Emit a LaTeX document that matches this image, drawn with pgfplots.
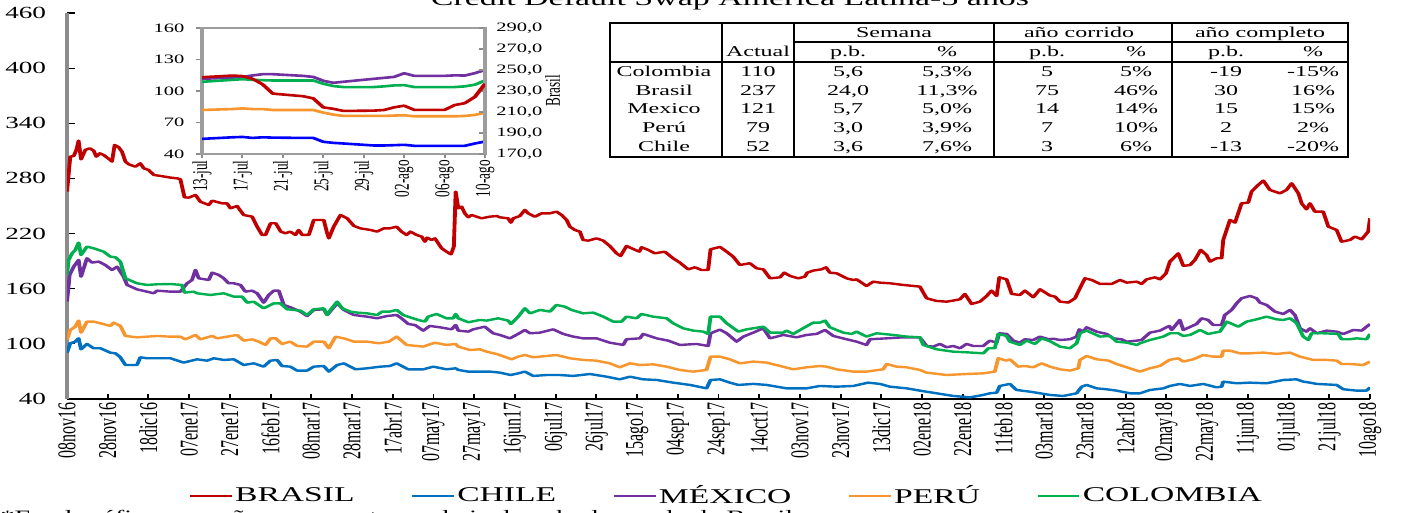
\documentclass[border=0pt]{standalone}
\usepackage{fontspec}
\setmainfont{Liberation Serif}
\usepackage{pgfplots}
\pgfplotsset{compat=1.18}
\definecolor{cBR}{HTML}{C00000}
\definecolor{cCL}{HTML}{0070C0}
\definecolor{cMX}{HTML}{7030A0}
\definecolor{cPE}{HTML}{F7962E}
\definecolor{cCO}{HTML}{00B050}
\definecolor{iBL}{HTML}{0000FF}
\definecolor{gAx}{HTML}{8C8C8C}
\newcommand\trow[9]{%
  \node at (664,#1) {#2};
  \node at (758,#1) {#3};
  \node at (848,#1) {#4};
  \node at (947,#1) {#5};
  \node at (1047,#1) {#6};
  \node at (1136,#1) {#7};
  \node at (1226,#1) {#8};
  \node at (1313,#1) {#9};}
\begin{document}
\begin{tikzpicture}
\useasboundingbox (0,0) rectangle (700.5pt,256.5pt);
\begin{scope}[transform canvas={xscale=1.6}]
\begin{axis}[
  at={(20.94pt,57pt)}, anchor=south west, scale only axis,
  width=407.19pt, height=193pt,
  xmin=0, xmax=640, ymin=40, ymax=460,
  axis x line*=bottom, axis y line*=left,
  x axis line style={-, black, line width=0.8pt},
  y axis line style={-, gAx, line width=1pt},
  tick align=inside, major tick length=2.5pt,
  tick style={black, line width=0.6pt},
  xtick={0,20,...,640},
  xticklabels={08nov16,28nov16,18dic16,07ene17,27ene17,16feb17,08mar17,28mar17,17abr17,07may17,27may17,16jun17,06jul17,26jul17,15ago17,04sep17,24sep17,14oct17,03nov17,23nov17,13dic17,02ene18,22ene18,11feb18,03mar18,23mar18,12abr18,02may18,22may18,11jun18,01jul18,21jul18,10ago18},
  xticklabel style={rotate=90, anchor=east, font=\fontsize{8}{9}\selectfont, inner sep=1.5pt},
  ytick={40,100,...,460},
  yticklabel style={font=\fontsize{8.5}{10}\selectfont, xshift=-3pt},
  /pgf/number format/assume math mode=true,
  legend columns=5,
  legend style={at={(0.506,-0.252)}, anchor=center, draw=none, fill=none, font=\fontsize{10.5}{12}\selectfont, /tikz/every even column/.append style={column sep=17pt}, nodes={inner sep=0.6pt}},
  legend image code/.code={\draw[#1, line width=0.9pt] (0pt,0pt) -- (13pt,0pt);},
  every axis plot/.append style={line width=1.2pt, line join=round},
]
\addplot[cBR] coordinates {(0,265.6)(1.6,303.7)(3.3,304.4)(4.6,311)(5.7,321.1)(6.9,300.8)(9,311)(11.1,312.8)(13.1,310.2)(14.4,303.7)(16.1,307.3)(18,305.5)(21.3,300)(22.1,298.3)(23.4,316.4)(25.4,313.9)(27,309.1)(28.7,298.3)(30.3,295.4)(33.6,292.8)(36,296.4)(37.7,291)(40.1,289.2)(42.6,283.8)(45.9,282.7)(50.8,280.9)(54.1,280.1)(55.7,279)(57.7,259.5)(59.8,259.1)(63.1,262)(65.5,254.7)(69.6,251.1)(71.3,255.8)(73.7,254.4)(76.2,252.9)(78.6,252.9)(80.3,247.5)(83.5,250)(86.8,240.2)(90.9,238.4)(93.4,227.5)(95.8,218.5)(97.5,218.5)(100,231.2)(102.5,231.2)(105,222.1)(107.3,220.3)(109.7,222.1)(112.2,218.5)(113.8,223.9)(115.5,218.5)(118.8,218.5)(121.2,234.8)(126.1,234.8)(127.8,220.3)(128.6,214.8)(131,227.5)(134.3,240.2)(137.6,236.6)(140.9,228.3)(144.1,225.7)(149.1,223.9)(152.3,222.1)(155.6,225.7)(158.6,225.7)(161.9,227.5)(164.3,222.1)(166.8,218.5)(168.7,222.1)(171.7,218.5)(174.2,216.7)(175.8,211.2)(176.9,215.6)(179.1,213)(180.7,214.8)(184,204)(186.4,200.3)(188.6,197.4)(190,205.8)(190.9,265.6)(192.2,247.5)(193.8,249.3)(195.4,242)(197.1,237.7)(198.7,240.2)(203.6,236.6)(207.7,238.4)(211,239.1)(212.6,237.7)(216.7,236.6)(218,231.9)(219.2,236.6)(222.4,239.1)(224.9,245.7)(226.5,242)(229.8,238.4)(233.1,242)(237.2,242)(240.4,243.9)(242.9,240.2)(245.4,234.8)(247,227.5)(249.5,223.9)(251.9,222.1)(253.5,213)(256,212.3)(260.1,214.8)(263.4,212.3)(266.6,206.5)(269.9,198.5)(271.9,195.6)(274.8,206.5)(277.3,204)(281.1,200.3)(282.2,205.1)(285.5,202.2)(288.7,198.5)(293.6,200.3)(297.7,193.1)(301,188.4)(305.1,181.1)(308.4,183.3)(311.6,180.4)(314.9,180.4)(316.1,202.9)(320.7,205.5)(324,200.3)(327.2,194.9)(330.5,185.8)(335.4,187.7)(338.7,182.2)(342,181.1)(345.3,171.3)(350.2,172.4)(352.3,177.5)(355.1,173.9)(359.2,171.3)(362.4,173.1)(363.6,177.5)(366.5,179.7)(370.6,181.1)(372.8,183.3)(374.7,177.5)(378,176.8)(382.9,171.3)(386.2,169.5)(387.8,170.2)(392.7,163)(396,167.7)(399.3,166.6)(404.2,165.9)(410.7,164.1)(418.9,162.3)(422.2,149.6)(427.1,146.7)(432,145.9)(435.3,147.1)(438.6,148.5)(441,154.3)(444.3,143.4)(448.4,145.9)(451.7,152.1)(454.1,157.9)(456.6,152.1)(457.9,172.4)(461.5,170.2)(464,154.3)(468,153.2)(470.5,157.9)(474.6,150.7)(477.9,159.4)(482.8,152.6)(485.3,151.4)(487.7,146)(491.8,144.9)(495.1,149.6)(497.5,160.5)(500,171.3)(503.3,169.5)(507.4,165.2)(513.1,165.2)(517.2,169.5)(520.5,166.6)(525.4,167.7)(527.8,165.2)(530.3,170.2)(534.4,172.4)(536.8,170.2)(539.8,176.8)(541.7,189.5)(545.8,198.5)(548.3,184.8)(551.6,185.8)(554,191.3)(556.8,202.2)(559.7,196.7)(561.4,189.5)(564.6,193.1)(567.1,193.1)(567.9,213)(571.2,234.8)(573.7,231.9)(576.9,252.9)(580.2,253.7)(581.8,265.6)(585.1,272.9)(587.6,277.6)(590.8,267.5)(595.7,263.8)(599,267.5)(601.5,274.7)(604.8,263.8)(606.4,252.9)(608.8,246.4)(610.5,252.9)(612.9,243.9)(617,243.9)(619.5,227.6)(623.6,223.9)(626,211.2)(630.1,213)(632.6,216.7)(635.9,213.8)(639.1,222.1)(640,236.6)};
\addlegendentry{BRASIL}
\addplot[cCL] coordinates {(0,90.4)(1.6,100.6)(4.1,102.4)(5.7,106)(6.9,94.1)(9.8,99.9)(13.1,95.2)(16.4,95.2)(21.3,90.4)(23.8,89.7)(26.2,85.4)(28.7,77)(34.4,77)(36,85.4)(39.3,84.3)(44.2,84.3)(50.8,84.3)(57.3,79.6)(63.9,83.2)(68.8,81.7)(72.1,84.3)(77,82.5)(81.9,83.2)(86.8,77)(91.7,78.8)(96.6,75.2)(99.9,81.7)(103.2,82.5)(105.6,75.9)(109.7,75.2)(113,70.9)(117.9,70.9)(121.2,75.2)(126.1,75.9)(128.6,69.8)(132.7,77)(136,78.8)(141.7,72.3)(147.4,73.4)(154,75.2)(158.6,75.9)(161.9,78.8)(167.6,72.3)(175,72.3)(179.9,75.2)(186.4,72.3)(190.9,73.4)(192.2,71.6)(197.1,69.8)(207.7,69.8)(212.6,68.7)(217.9,66.1)(221.6,67.9)(224.9,69.8)(229,65.1)(235.5,66.1)(242.1,66.1)(248.6,65.1)(256.8,67.2)(265,64.3)(271.5,61.4)(276.5,64.3)(283,61.4)(289.6,60.7)(297.7,57.8)(306,55.3)(314.1,51.6)(316.1,60.7)(320.7,61.4)(325.6,57.8)(329.7,55.3)(337.1,56.4)(343.6,55.3)(353.4,51.6)(363.3,51.6)(369.8,54.2)(378,53.4)(386.2,54.2)(393.5,57.8)(399.3,56.4)(404.2,53.4)(412.4,51.6)(418.9,49.1)(427.1,46.2)(435.3,43.3)(443.5,41.8)(450,44.4)(453.3,46.2)(456.6,46.9)(458.2,54.2)(463.1,56.4)(466.4,49.8)(472.9,48)(477.9,46.2)(482.8,44.4)(489.3,43.3)(495.9,46.2)(498.4,53.4)(500.8,55.3)(505.7,51.6)(510.6,50.6)(515.5,49.1)(522.1,46.2)(527,46.2)(531.9,49.8)(538.5,51.6)(541.7,54.2)(546.6,56.4)(551.6,54.2)(558.1,56.4)(564.6,52.7)(567.1,53.4)(567.9,58.9)(574.5,57.1)(581,57.8)(589.2,57.1)(597.4,60.7)(603.9,61.4)(607.2,58.9)(610.5,57.8)(613.8,56.4)(623.6,55.3)(626.9,50.6)(633.4,49.1)(638.3,49.1)(640,52.7)};
\addlegendentry{CHILE}
\addplot[cMX] coordinates {(0,145.9)(1.3,175)(3.3,184)(5.7,191.3)(6.9,173.1)(9.8,193.1)(12.3,188.4)(15.6,189.5)(18.8,185.8)(22.1,180.4)(24.6,184)(27.8,173.1)(29.5,164.1)(34.4,159.3)(39.3,156.8)(42.6,155)(44.2,157.9)(50.8,156.8)(55.7,156.8)(59,165.9)(61.4,169.5)(63.1,180.4)(64.7,171.3)(69.6,169.5)(71.3,177.5)(74.5,175)(77,171.3)(79.4,165.9)(81.9,165.9)(85.2,164.1)(87.6,156.8)(90.9,157.9)(93.4,155)(96.6,144.8)(99.1,153.2)(101.6,157.9)(104,157.9)(106.5,142.3)(109.7,139.8)(114.7,135.1)(117.9,130.3)(121.2,136.9)(126.1,137.6)(127.8,131.4)(132.7,144.1)(136,136.9)(140.9,131.4)(147.4,129.6)(152.3,127.8)(157.2,130.3)(161.9,131.4)(164.3,127.8)(167.6,121.6)(170.9,120.5)(175,114.4)(178.2,119.5)(183.2,118)(188.9,115.8)(190.9,120.5)(192.2,114.4)(197.1,113.3)(199.5,115.8)(205.2,118.7)(209.3,111.5)(212.6,109.7)(217.5,106)(221.6,110.8)(224.9,115.1)(227.4,111.5)(232.3,112.2)(238.8,115.8)(243.7,110.8)(248.6,107.9)(253.5,106)(260.1,106)(266.6,101.3)(273.2,98.8)(274.8,105)(281.4,106)(283,110.8)(289.6,106)(295.3,103.5)(301,98.8)(309.2,99.9)(314.9,97.7)(316.1,111.5)(320.7,115.5)(324,111.5)(328.9,102.4)(332.2,107.9)(337.1,112.2)(342,117)(345.3,106)(351.8,109.7)(358.3,107.1)(363.3,109.7)(368.2,110.8)(372.3,115.1)(376.4,108.6)(382.9,105)(387.8,102.4)(392.7,98.8)(394.4,105)(402.6,106)(410.7,107.1)(418.9,107.1)(422.2,97.7)(425.5,97)(428.7,99.9)(432,96.3)(435.3,97.7)(438.6,95.2)(441.8,99.9)(445.1,97.7)(450,97.7)(453.3,103.5)(456.6,101.3)(457.9,111.5)(461.5,110.8)(464.8,103.5)(468,101.3)(470.5,105)(474.6,104.2)(477.9,107.9)(482,105)(484.4,105.6)(487.7,104.2)(492.6,105)(495.9,107.9)(497.2,115.8)(499.2,113.3)(500.8,118)(505.7,113.3)(510.6,110.8)(513.9,106)(517.9,105)(520.5,102.4)(525.4,103.5)(527.8,104.2)(531.9,112.2)(536.8,114.4)(541.4,119.5)(542.6,115.1)(546.6,126)(548.3,115.1)(554.8,121.6)(557.3,127.8)(560.5,126)(563,120.5)(567.1,120.5)(568.7,131.4)(572,136.9)(574.5,144.1)(576.9,149.6)(581,152.1)(584.3,149.6)(585.9,144.9)(589.2,142.3)(593.3,135.1)(597.4,132.5)(600.7,136.9)(603.1,131.4)(605.6,116.9)(608.8,113.3)(610.5,116.9)(613.8,111.5)(618.7,114.4)(623.6,113.3)(626.9,110.8)(631.8,115.1)(635.9,114.4)(640,121.6)};
\addlegendentry{MÉXICO}
\addplot[cPE] coordinates {(0,104.2)(1.6,115.1)(4.1,118.7)(5.7,125.3)(6.9,112.2)(9.8,124.2)(13.1,124.2)(16.4,122.4)(21.3,119.5)(22.9,123.1)(26.2,119.5)(28.7,108.6)(34.4,107.1)(39.3,107.8)(44.2,108.6)(50.8,107.8)(55.7,107.8)(58.1,104.9)(63.1,109.7)(65.5,104.9)(71.3,108.6)(73.7,106)(78.6,107.8)(83.5,109.7)(86.8,103.5)(90.9,104.9)(94.2,102.4)(97.5,98.8)(100,106)(102.5,106)(105.6,99.9)(109.7,102.4)(113,97.7)(117.9,97)(121.2,102.4)(126.1,102.4)(128.6,95.2)(131.9,107.8)(136,106)(140.9,102.4)(147.4,102.4)(153.2,100.6)(158.1,102.4)(161.9,107.9)(166.8,98.8)(175,97)(180.7,101.3)(186.4,98.8)(190.9,99.9)(192.2,97)(197.9,93.3)(202.8,94.1)(206.1,91.5)(211,89)(218.4,83.2)(221.6,86.1)(224.9,87.9)(229,85.4)(235.5,86.8)(240.4,87.9)(247,84.3)(253.5,82.5)(260.1,81.7)(266.6,78.8)(271.5,74.5)(276.5,78.8)(281.4,77)(287.9,77.7)(294.5,75.2)(301,71.6)(307.6,69.8)(314.1,71.6)(316.1,86.1)(320.7,86.1)(325.6,83.2)(330.5,78.8)(337.1,80.7)(343.6,79.6)(350.2,76)(356.7,72.3)(363.3,74.5)(369.8,75.9)(373.1,75.2)(378,72.3)(386.2,69.8)(392.7,69.8)(400.9,72.3)(402.6,78.1)(407.5,75.2)(412.4,74.5)(418.9,71.6)(422.2,68.7)(432,66.1)(441.8,67.2)(450,67.9)(455.7,69.8)(457.4,84.3)(461.5,81.7)(463.1,83.2)(467.2,75.2)(470.5,75.9)(474.6,74.5)(478.7,78.8)(482.8,75.2)(487.7,72.3)(492.6,70.9)(496.7,73.4)(497.5,82.5)(500.8,86.8)(505.7,83.2)(511.5,81.8)(515.5,78.1)(520.5,74.5)(524.5,71.6)(527,69.8)(531.9,73.4)(536.8,76)(541.4,82.5)(545.8,84.3)(548.3,80.7)(553.2,83.2)(558.1,87.9)(563,86.1)(567.1,86.1)(567.9,92.6)(571.2,92.6)(576.1,89.7)(581,89.7)(587.6,90.5)(594.1,89)(600.7,90.5)(605.6,86.1)(612.1,82.5)(618.7,82.5)(623.6,81.8)(626,78.1)(630.1,78.1)(636.7,77)(640,80.7)};
\addlegendentry{PERÚ}
\addplot[cCO] coordinates {(0,175)(0.8,191.3)(2.5,198.5)(4.1,202.2)(5.7,210.1)(6.9,196.7)(9.8,205.8)(13.1,204)(18,200.3)(21.3,194.9)(23.8,194.2)(26.2,189.4)(28.7,171.3)(34.4,165.9)(39.3,164.1)(44.2,164.8)(50.8,165.1)(56.5,164.1)(57.7,155.7)(62.2,156.8)(63.9,155)(70.4,153.2)(77,155)(81.9,151.4)(86,151.4)(88.5,144.8)(91.7,145.9)(96.6,138.7)(101.6,144.1)(104.8,144.1)(108.1,137.6)(111.4,136.9)(114.7,136.1)(117.9,131.4)(121.2,137.6)(126.1,138.7)(127.8,131.4)(129.4,136.9)(132.7,145.9)(135.1,138.7)(139.2,135.1)(142.5,134)(147.4,133.2)(152.3,131.4)(154.8,135.1)(158.6,135.1)(161.9,136.9)(165.1,131.4)(168.4,128.9)(172.5,126)(175.8,124.2)(177.4,129.6)(181.5,132.5)(186.4,127.8)(189.7,127.8)(190.9,132.5)(192.2,127.8)(197.1,123.5)(202.8,126)(206.1,125.3)(211.8,127.8)(216.7,125.3)(218,121.6)(221.6,129.6)(224.9,138.7)(227.4,133.2)(232.3,136.9)(237.2,135.1)(240.4,142.3)(244.5,140.5)(247.8,136.9)(253.5,133.2)(258.5,134)(263.4,129.6)(268.3,124.2)(272.4,124.2)(274.8,129.6)(279.7,127.8)(282.2,132.5)(287.9,129.6)(294.5,127.8)(297.7,122.4)(302.7,116.9)(307.6,114.4)(312.5,113.3)(314.9,110.8)(316.1,129.6)(320.7,129.6)(324,122.4)(329.7,113.3)(333.8,115.8)(342,118.7)(345.3,112.2)(351.8,112.2)(353.4,114.4)(356.7,110.8)(361.6,117)(366.5,123.1)(369.8,123.1)(372.3,125.3)(374.7,118)(381.3,112.2)(385.4,110.8)(387.8,113.3)(392.7,107.9)(397.6,111.5)(405.8,109.7)(412.4,107.9)(418.9,107.1)(420.6,98.8)(427.1,94.1)(435.3,91.5)(441.8,90.8)(450,89.7)(452.5,95.2)(455.7,95.2)(457.4,110.8)(461.5,108.6)(463.1,102.4)(468,98.8)(471.3,103.5)(475.4,99.9)(478.7,106)(482.8,102.9)(487.7,97)(492.6,95.2)(495.9,100.6)(497.5,111.5)(500.8,114.4)(507.4,107.9)(512.3,108.6)(515.5,102.4)(520.5,101.3)(525.4,98.8)(527,100.6)(531.9,104.2)(538.5,107.9)(541.7,111.5)(545.8,111.5)(548.3,108.6)(551.6,109.7)(556.5,115.1)(560.5,110.8)(566.3,113.3)(569.6,124.2)(575.3,118.7)(579.4,124.2)(584.3,126.7)(589.2,129.6)(594.1,126.7)(597.4,126)(600.7,127.8)(604,122.4)(607.2,107.9)(609.7,104.2)(611.3,111.5)(617,111.5)(624.4,110.8)(626,105)(630.1,105)(633.4,106)(638.3,105)(640,110.8)};
\addlegendentry{COLOMBIA}
\end{axis}
% inset, left scale
\begin{axis}[
  at={(63.125pt,179.5pt)}, anchor=south west, scale only axis,
  width=88.44pt, height=63pt,
  xmin=0, xmax=28, ymin=40, ymax=160,
  axis background/.style={fill=white},
  axis line style={gAx!85, line width=1pt},
  tick align=outside, major tick length=2pt,
  tick style={gAx, line width=0.6pt},
  xtick pos=bottom, ytick pos=left,
  xtick={0,4,...,28},
  xticklabels={13-jul,17-jul,21-jul,25-jul,29-jul,02-ago,06-ago,10-ago},
  xticklabel style={rotate=90, anchor=east, font=\fontsize{6.6}{7}\selectfont, inner sep=1pt},
  ytick={40,70,...,160},
  yticklabel style={font=\fontsize{6.4}{7}\selectfont},
  /pgf/number format/assume math mode=true,
  every axis plot/.append style={line width=1.3pt, line join=round},
]
\addplot[cMX] coordinates {(0,111.6)(3,112.8)(4,113.4)(5,114.8)(6,116)(7,116)(10,114.4)(11,113.4)(12,109.7)(13,107.8)(14,108.8)(17,111.6)(18,112.5)(19,113.4)(20,116.9)(21,114.4)(24,114.4)(25,114.9)(26,114.7)(27,117)(28,120)};
\addplot[cCO] coordinates {(0,108.75)(3,110.6)(4,111.25)(5,110.6)(6,110.3)(7,110)(10,110)(11,110)(12,106.9)(13,104.7)(14,103.75)(17,103.75)(18,104.4)(19,105.3)(20,105.6)(21,103.75)(24,103.75)(25,103.75)(26,104.4)(27,106)(28,110)};
\addplot[cPE] coordinates {(0,81.9)(3,82.8)(4,83.4)(5,82.8)(6,82.8)(7,81.9)(10,81.9)(11,81.9)(12,79.4)(13,77.5)(14,76.25)(17,76.25)(18,76.25)(19,76.6)(20,76.9)(21,75.9)(24,75.9)(25,75.9)(26,76.25)(27,77.2)(28,79.4)};
\addplot[iBL] coordinates {(0,54.4)(3,55.9)(4,56.25)(5,55.3)(6,55.9)(7,55.6)(10,55.3)(11,55.3)(12,51.6)(13,50.6)(14,50)(17,48.1)(18,48.1)(19,48.4)(20,48.75)(21,47.8)(24,47.8)(25,47.8)(26,47.8)(27,50)(28,51.9)};
\end{axis}
% inset, right scale (Brasil)
\begin{axis}[
  at={(63.125pt,179.5pt)}, anchor=south west, scale only axis,
  width=88.44pt, height=63pt,
  xmin=0, xmax=28, ymin=170, ymax=290,
  axis x line=none, axis y line*=right,
  y axis line style={-, gAx!85, line width=1pt},
  tick align=inside, major tick length=2pt,
  tick style={gAx, line width=0.6pt},
  ytick={170,190,...,290},
  yticklabel style={font=\fontsize{6.4}{7}\selectfont, /pgf/number format/.cd, fixed, fixed zerofill, precision=1, use comma, assume math mode=true},
  ylabel={Brasil}, ylabel style={font=\fontsize{6.6}{7}\selectfont}, ylabel shift=-6pt,
  every axis plot/.append style={line width=1.3pt, line join=round},
]
\addplot[cBR] coordinates {(0,243.1)(3,244.7)(4,244.2)(5,241.6)(6,236.3)(7,227.5)(10,225)(11,223)(12,214.4)(13,213)(14,211)(17,211.3)(18,211.9)(19,214.4)(20,216)(21,212)(24,212)(25,216.6)(26,218.4)(27,224.4)(28,236.9)};
\end{axis}
% title, table and note
\begin{scope}[x=0.3125pt, y=-0.5pt, yshift=256.5pt]
\node[anchor=base, inner sep=0, font=\fontsize{10.6}{12}\selectfont] at (730,6) {Credit Default Swap America Latina-3 años};
\draw[line width=0.7pt] (610,23) rectangle (1348,157);
\draw[line width=0.7pt] (722,23) -- (722,157);
\draw[line width=0.7pt] (794,23) -- (794,157);
\draw[line width=0.7pt] (994,23) -- (994,157);
\draw[line width=0.7pt] (1172,23) -- (1172,157);
\draw[line width=0.6pt] (794,42) -- (1348,42);
\draw[line width=0.6pt] (610,62) -- (1348,62);
\begin{scope}[every node/.style={anchor=base, inner sep=0, font=\fontsize{7.5}{9}\selectfont}]
\node at (894,38) {Semana};
\node at (1079,38) {año corrido};
\node at (1260,38) {año completo};
\node at (758,57) {Actual};
\node at (848,57) {p.b.}; \node at (947,57) {\%};
\node at (1047,57) {p.b.}; \node at (1136,57) {\%};
\node at (1226,57) {p.b.}; \node at (1313,57) {\%};
\trow{77}{Colombia}{110}{5,6}{5,3\%}{5}{5\%}{-19}{-15\%}
\trow{95.7}{Brasil}{237}{24,0}{11,3\%}{75}{46\%}{30}{16\%}
\trow{114}{Mexico}{121}{5,7}{5,0\%}{14}{14\%}{15}{15\%}
\trow{133}{Perú}{79}{3,0}{3,9\%}{7}{10\%}{2}{2\%}
\trow{152}{Chile}{52}{3,6}{7,6\%}{3}{6\%}{-13}{-20\%}
\end{scope}
\node[anchor=base west, inner sep=0, font=\fontsize{8.7}{10}\selectfont] at (0,523) {*En el gráfico pequeño se presenta en el eje derecho la escala de Brasil};
\end{scope}
\end{scope}
\end{tikzpicture}
\end{document}
